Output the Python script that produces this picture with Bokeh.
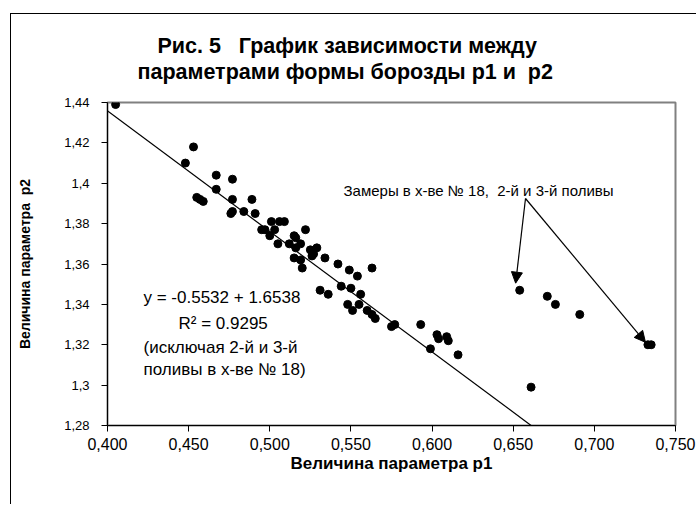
from bokeh.plotting import figure
from bokeh.models import Label, Arrow, NormalHead, FixedTicker, Range1d, Title
from bokeh.embed import file_html
from bokeh.resources import INLINE

# ---- data ----
p1 = [0.405, 0.453, 0.448, 0.467, 0.477, 0.467, 0.455, 0.457, 0.459, 0.477,
      0.489, 0.477, 0.476, 0.484, 0.491, 0.501, 0.506, 0.509, 0.522, 0.495,
      0.497, 0.503, 0.500, 0.515, 0.516, 0.505, 0.512, 0.519, 0.516, 0.525,
      0.529, 0.527, 0.526, 0.534, 0.515, 0.519, 0.542, 0.520, 0.549, 0.563,
      0.554, 0.531, 0.536, 0.544, 0.550, 0.556, 0.548, 0.551, 0.555, 0.560,
      0.563, 0.565, 0.575, 0.577, 0.593, 0.603, 0.604, 0.609, 0.610, 0.599,
      0.616]
p2 = [1.439, 1.418, 1.410, 1.404, 1.402, 1.397, 1.393, 1.392, 1.391, 1.392,
      1.392, 1.386, 1.385, 1.386, 1.385, 1.381, 1.381, 1.381, 1.377, 1.377,
      1.377, 1.377, 1.374, 1.374, 1.373, 1.370, 1.370, 1.370, 1.368, 1.367,
      1.368, 1.365, 1.364, 1.363, 1.363, 1.362, 1.360, 1.358, 1.357, 1.358,
      1.354, 1.347, 1.345, 1.349, 1.348, 1.345, 1.340, 1.337, 1.340, 1.337,
      1.335, 1.333, 1.329, 1.330, 1.330, 1.325, 1.323, 1.324, 1.322, 1.318,
      1.315]
# measurements in farm No 18, 2nd and 3rd irrigation
p1_farm18 = [0.654, 0.671, 0.676, 0.691, 0.733, 0.735, 0.661]
p2_farm18 = [1.347, 1.344, 1.340, 1.335, 1.320, 1.320, 1.299]

# hand-drawn regression line end points
line_p1 = [0.3846, 0.661]
line_p2 = [1.4450, 1.280]

x_ticks = [0.40, 0.45, 0.50, 0.55, 0.60, 0.65, 0.70, 0.75]
x_labels = ["0,400", "0,450", "0,500", "0,550", "0,600", "0,650", "0,700", "0,750"]
y_ticks = [1.28, 1.30, 1.32, 1.34, 1.36, 1.38, 1.40, 1.42, 1.44]
y_labels = ["1,28", "1,3", "1,32", "1,34", "1,36", "1,38", "1,4", "1,42", "1,44"]

NB = "\u00a0"
title_line1 = "Рис. 5" + NB * 3 + "График зависимости между"
title_line2 = "параметрами формы борозды p1 и" + NB * 2 + "p2"

# ---- layout (page pixels) ----
PAGE_W, PAGE_H = 697, 505
OX, OY = 10, 13            # chart-area border position
CX, CY = OX + 1, OY + 1    # canvas origin on the page
L, R, T, B = 107, 675, 102, 425   # plot area on the page
X0, X1, Y0, Y1 = 0.40, 0.75, 1.28, 1.44
W, H = PAGE_W - CX, PAGE_H - CY


def dx(px):
    return X0 + (px - L) / (R - L) * (X1 - X0)


def dy(py):
    return Y0 + (B - py) / (B - T) * (Y1 - Y0)


FONT = "Liberation Sans"

p = figure(width=W, height=H, output_backend="svg", toolbar_location=None,
           x_range=Range1d(X0, X1), y_range=Range1d(Y0, Y1),
           min_border_left=L - CX, min_border_right=W - (R - CX),
           min_border_top=T - CY, min_border_bottom=H - (B - CY),
           margin=(OY, 0, 0, OX),
           styles={"border-left": "1px solid black", "border-top": "1px solid black"})
p.grid.visible = False
p.outline_line_color = "#808080"
p.outline_line_width = 2
p.background_fill_color = "white"
p.border_fill_color = "white"

for ax, ticks, labels in ((p.xaxis[0], x_ticks, x_labels), (p.yaxis[0], y_ticks, y_labels)):
    ax.ticker = FixedTicker(ticks=ticks, minor_ticks=[])
    ax.major_label_overrides = {t: l for t, l in zip(ticks, labels)}
    ax.axis_line_color = "black"
    ax.major_tick_line_color = "black"
    ax.major_tick_out = 6
    ax.major_tick_in = 0
    ax.minor_tick_line_color = None
    ax.major_label_text_font = FONT
    ax.major_label_text_color = "black"
    ax.axis_label_text_font = FONT
    ax.axis_label_text_font_style = "bold"
    ax.axis_label_text_color = "black"

p.xaxis.major_label_text_font_size = "16px"
p.yaxis.major_label_text_font_size = "13px"
p.xaxis.axis_label_text_font_size = "17px"
p.yaxis.axis_label_text_font_size = "14px"
p.xaxis.axis_label = "Величина параметра p1"
p.yaxis.axis_label = "Величина параметра" + NB * 2 + "p2"
p.xaxis.major_label_standoff = 6
p.xaxis.axis_label_standoff = 1
p.yaxis.major_label_standoff = 12
p.yaxis.axis_label_standoff = 28

# title (two lines, above the plot area) + spacer next to the plot area
p.add_layout(Title(text=" ", text_font_size="1px", standoff=16), "above")
for txt, left in ((title_line2, 137), (title_line1, 157)):
    p.add_layout(Title(text=txt, align="left", offset=left - L, text_font=FONT, text_font_size="21.5px",
                       text_font_style="bold", text_color="black", standoff=0), "above")

# points
p.scatter(p1, p2, size=8, color="black")
p.scatter(p1_farm18, p2_farm18, size=8, color="black")

# regression line (drawn as shape in original)
p.add_layout(Arrow(x_start=line_p1[0], y_start=line_p2[0], x_end=line_p1[1], y_end=line_p2[1],
                   end=None, line_color="black", line_width=1.2))

# arrows to farm 18 points
ax0, ay0 = dx(525), dy(198)
for xe, ye in ((0.6515, 1.3505), (0.7315, 1.3212)):
    p.add_layout(Arrow(x_start=ax0, y_start=ay0, x_end=xe, y_end=ye, line_color="black", line_width=1.2,
                       end=NormalHead(size=11, fill_color="black", line_color="black")))

# annotation texts
notes = [("y = -0.5532 + 1.6538", 143, 297),
         ("R² = 0.9295", 178, 323),
         ("(исключая 2-й и 3-й", 143, 347),
         ("поливы в х-ве № 18)", 143, 369)]
for txt, px, py in notes:
    p.add_layout(Label(x=dx(px), y=dy(py), text=txt, text_align="left", text_baseline="middle",
                       text_font=FONT, text_font_size="17px", text_color="black"))

p.add_layout(Label(x=dx(343), y=dy(190), text="Замеры в х-ве № 18," + NB * 2 + "2-й и 3-й поливы",
                   text_align="left", text_baseline="middle", text_font=FONT, text_font_size="15px",
                   text_color="black"))

open("out.html", "w").write(file_html(p, INLINE))
